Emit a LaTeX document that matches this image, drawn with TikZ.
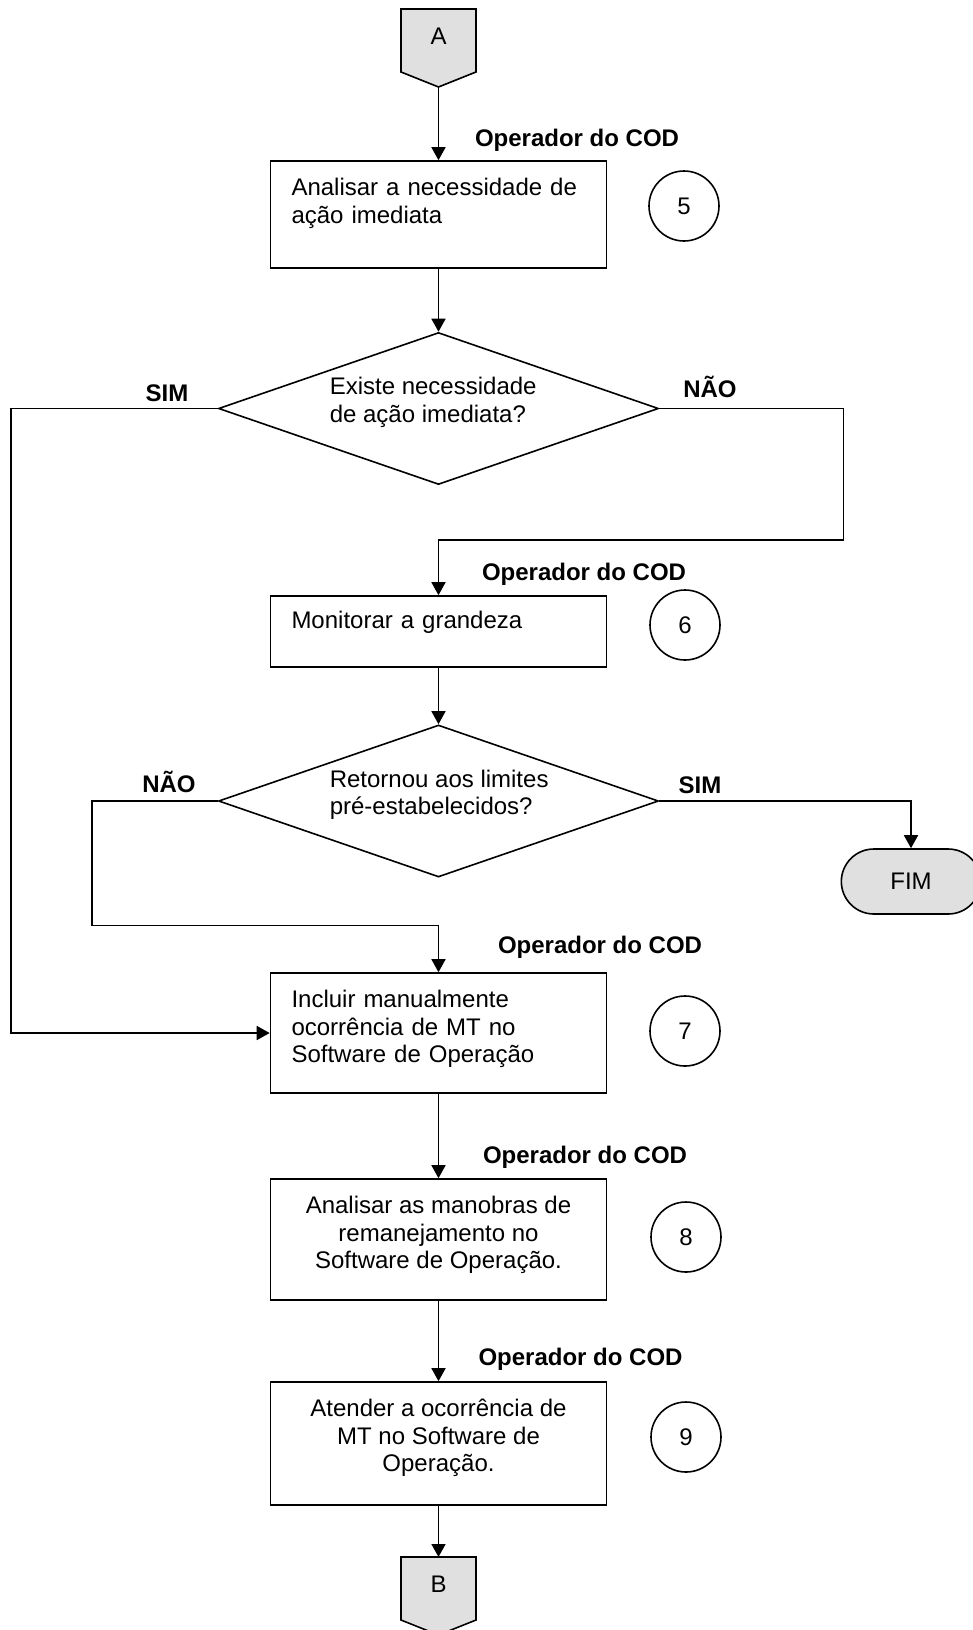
\documentclass[tikz,border=0pt]{standalone}
\usepackage{fontspec}
\setmainfont{Liberation Sans}
\usetikzlibrary{arrows.meta,shapes.geometric,shapes.misc}
\definecolor{termgray}{RGB}{224,224,224}
\tikzset{
    flow/.style={-{Triangle[length=13pt,width=14pt]}},
    box/.style={draw, rectangle, minimum width=336pt, inner sep=0pt},
    decision/.style={draw, diamond, minimum width=440pt, minimum height=152pt, inner sep=0pt},
    txt/.style={inner sep=0pt},
    role/.style={inner sep=0pt, font=\fontsize{24}{27.5}\selectfont\bfseries},
    numcirc/.style={draw, circle, minimum size=70pt, inner sep=0pt},
    term/.style={draw, fill=termgray, rounded rectangle, minimum width=146pt, minimum height=65pt}
}
\begin{document}
\begin{tikzpicture}[x=1pt, y=-1pt, line width=1.6pt, font=\fontsize{24}{27.5}\selectfont]
    \useasboundingbox (0,0) rectangle (972,1630);

    % connectors A and B
    \filldraw[fill=termgray] (401,9) -- (476,9) -- (476,72) -- (438.5,87) -- (401,72) -- cycle;
    \coordinate (Atip) at (438.5,87);
    \node[txt] (A) at (438.5,36) {A};
    \filldraw[fill=termgray] (401,1557) -- (476,1557) -- (476,1620) -- (438.5,1635) -- (401,1620) -- cycle;
    \coordinate (Btop) at (438.5,1557);
    \node[txt] (B) at (438.5,1584) {B};

    % steps
    \node[box, minimum height=107pt] (analisar)  at (438.5,214.5) {};
    \node[box, minimum height=71pt]  (monitorar) at (438.5,631.5) {};
    \node[box, minimum height=120pt] (incluir)   at (438.5,1033) {};
    \node[box, minimum height=121pt] (manobras)  at (438.5,1239.5) {};
    \node[box, minimum height=123pt] (atender)   at (438.5,1443.5) {};

    \node[txt, text width=294pt, align=left] (t5) at (438.5,203.5) {Analisar a necessidade de\\ação imediata};
    \node[txt, text width=294pt, align=left] (t6) at (438.5,622) {Monitorar a grandeza};
    \node[txt, text width=294pt, align=left] (t7) at (438.5,1029) {Incluir manualmente\\ocorrência de MT no\\Software de Operação};
    \node[txt, align=center] (t8) at (438.5,1235) {Analisar as manobras de\\remanejamento no\\Software de Operação.};
    \node[txt, align=center] (t9) at (438.5,1438) {Atender a ocorrência de\\MT no Software de\\Operação.};

    % decisions
    \node[decision] (dec1) at (438.5,408.5) {};
    \node[decision] (dec2) at (438.5,801) {};
    \node[txt, anchor=west, align=left] (q1) at (329,402.5) {Existe necessidade\\de ação imediata?};
    \node[txt, anchor=west, align=left] (q2) at (329,795) {Retornou aos limites\\pré-estabelecidos?};

    \node[term] (fim) at (911,881.5) {FIM};

    % who does it
    \node[role] (op5) at (577,140)   {Operador do COD};
    \node[role] (op6) at (584,574)   {Operador do COD};
    \node[role] (op7) at (600,947)   {Operador do COD};
    \node[role] (op8) at (585,1157)  {Operador do COD};
    \node[role] (op9) at (580.5,1359) {Operador do COD};

    \node[numcirc] (n5) at (684,206)  {5};
    \node[numcirc] (n6) at (685,625)  {6};
    \node[numcirc] (n7) at (685,1031) {7};
    \node[numcirc] (n8) at (686,1237) {8};
    \node[numcirc] (n9) at (686,1437) {9};

    % answers
    \node[role] (sim1) at (167,393) {SIM};
    \node[role] (nao1) at (710,387) {NÃO};
    \node[role] (nao2) at (169,782) {NÃO};
    \node[role] (sim2) at (700,785) {SIM};

    % flow
    \draw[flow] (Atip) -- (analisar.north);
    \draw[flow] (analisar) -- (dec1);
    \draw[flow] (dec1.west) -- ++(-207,0) |- (incluir.west);
    \draw[flow] (dec1.east) -- ++(184,0) -- ++(0,131.5) -| (monitorar.north);
    \draw[flow] (monitorar) -- (dec2);
    \draw[flow] (dec2.west) -- ++(-126,0) -- ++(0,124.5) -| (incluir.north);
    \draw[flow] (dec2.east) -| (fim.north);
    \draw[flow] (incluir) -- (manobras);
    \draw[flow] (manobras) -- (atender);
    \draw[flow] (atender) -- (Btop);
\end{tikzpicture}
\end{document}
